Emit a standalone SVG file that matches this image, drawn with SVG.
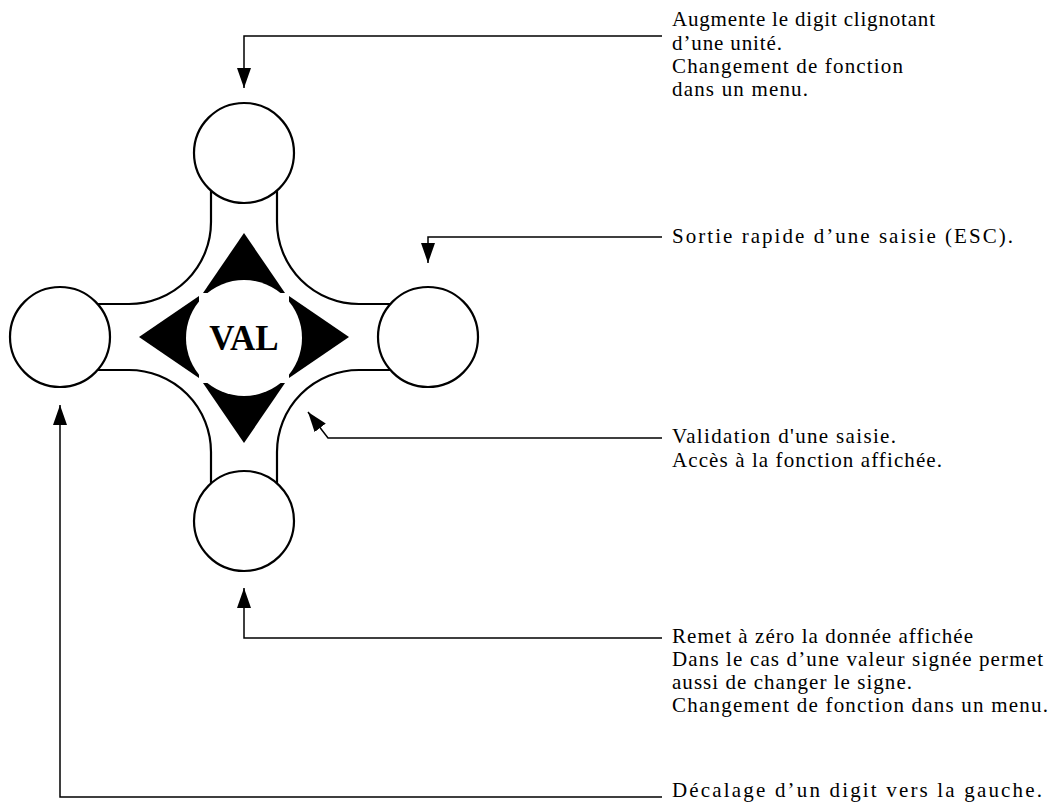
<svg xmlns="http://www.w3.org/2000/svg" width="1058" height="805" viewBox="0 0 1058 805">
<style>
.k{fill:#fff;stroke:#000;stroke-width:2.2}
.c{fill:none;stroke:#000;stroke-width:1.5}
.t{font-family:"Liberation Serif","Times New Roman",serif;font-size:21px;fill:#000}
.v{font-family:"Liberation Serif","Times New Roman",serif;font-size:35px;font-weight:bold;fill:#000}
</style>
<defs>
<marker id="ah" viewBox="0 0 20 14" refX="20" refY="7" markerWidth="20" markerHeight="14" markerUnits="userSpaceOnUse" orient="auto">
<path d="M0,0 L20,7 L0,14 Z" fill="#000"/>
</marker>
</defs>
<rect width="1058" height="805" fill="#fff"/>
<g id="pad">
<path class="k" d="M211,153 L211,222 A82,82 0 0 1 129,304 L60,304 L60,370 L129,370 A82,82 0 0 1 211,452 L211,521 L277,521 L277,452 A82,82 0 0 1 359,370 L428,370 L428,304 L359,304 A82,82 0 0 1 277,222 L277,153 Z"/>
<g id="arrows-pad" fill="#000">
<polygon points="244,233 203,293 285,293"/>
<polygon points="244,443 203,383 285,383"/>
<polygon points="139,337 199,296 199,378"/>
<polygon points="349,337 289,296 289,378"/>
</g>
<circle cx="244" cy="338" r="58" fill="#fff"/>
</g>
<g id="key-up"><circle class="k" cx="244" cy="153" r="50"/></g>
<g id="key-left"><circle class="k" cx="60" cy="337" r="50"/></g>
<g id="key-right"><circle class="k" cx="428" cy="337" r="50"/></g>
<g id="key-down"><circle class="k" cx="244" cy="521" r="50"/></g>
<g id="key-val"><text class="v" x="244" y="350" text-anchor="middle">VAL</text></g>
<g id="connectors">
<polyline class="c" points="662,36 244,36 244,88" marker-end="url(#ah)"/>
<polyline class="c" points="662,237 428,237 428,263" marker-end="url(#ah)"/>
<polyline class="c" points="662,438 328,438 308,412" marker-end="url(#ah)"/>
<polyline class="c" points="662,638 244,638 244,588" marker-end="url(#ah)"/>
<polyline class="c" points="662,797 60,797 60,405" marker-end="url(#ah)"/>
</g>
<g id="labels">
<text class="t" x="672" y="26" textLength="263" lengthAdjust="spacing">Augmente le digit clignotant</text>
<text class="t" x="672" y="50" textLength="110" lengthAdjust="spacing">d’une unité.</text>
<text class="t" x="672" y="73" textLength="231" lengthAdjust="spacing">Changement de fonction</text>
<text class="t" x="672" y="96" textLength="136" lengthAdjust="spacing">dans un menu.</text>
<text class="t" x="672" y="243" textLength="341" lengthAdjust="spacing">Sortie rapide d’une saisie (ESC).</text>
<text class="t" x="672" y="443" textLength="224" lengthAdjust="spacing">Validation d'une saisie.</text>
<text class="t" x="672" y="467" textLength="270" lengthAdjust="spacing">Accès à la fonction affichée.</text>
<text class="t" x="672" y="643" textLength="301" lengthAdjust="spacing">Remet à zéro la donnée affichée</text>
<text class="t" x="672" y="666" textLength="371" lengthAdjust="spacing">Dans le cas d’une valeur signée permet</text>
<text class="t" x="672" y="689" textLength="240" lengthAdjust="spacing">aussi de changer le signe.</text>
<text class="t" x="672" y="712" textLength="376" lengthAdjust="spacing">Changement de fonction dans un menu.</text>
<text class="t" x="672" y="797" textLength="370" lengthAdjust="spacing">Décalage d’un digit vers la gauche.</text>
</g>
</svg>
